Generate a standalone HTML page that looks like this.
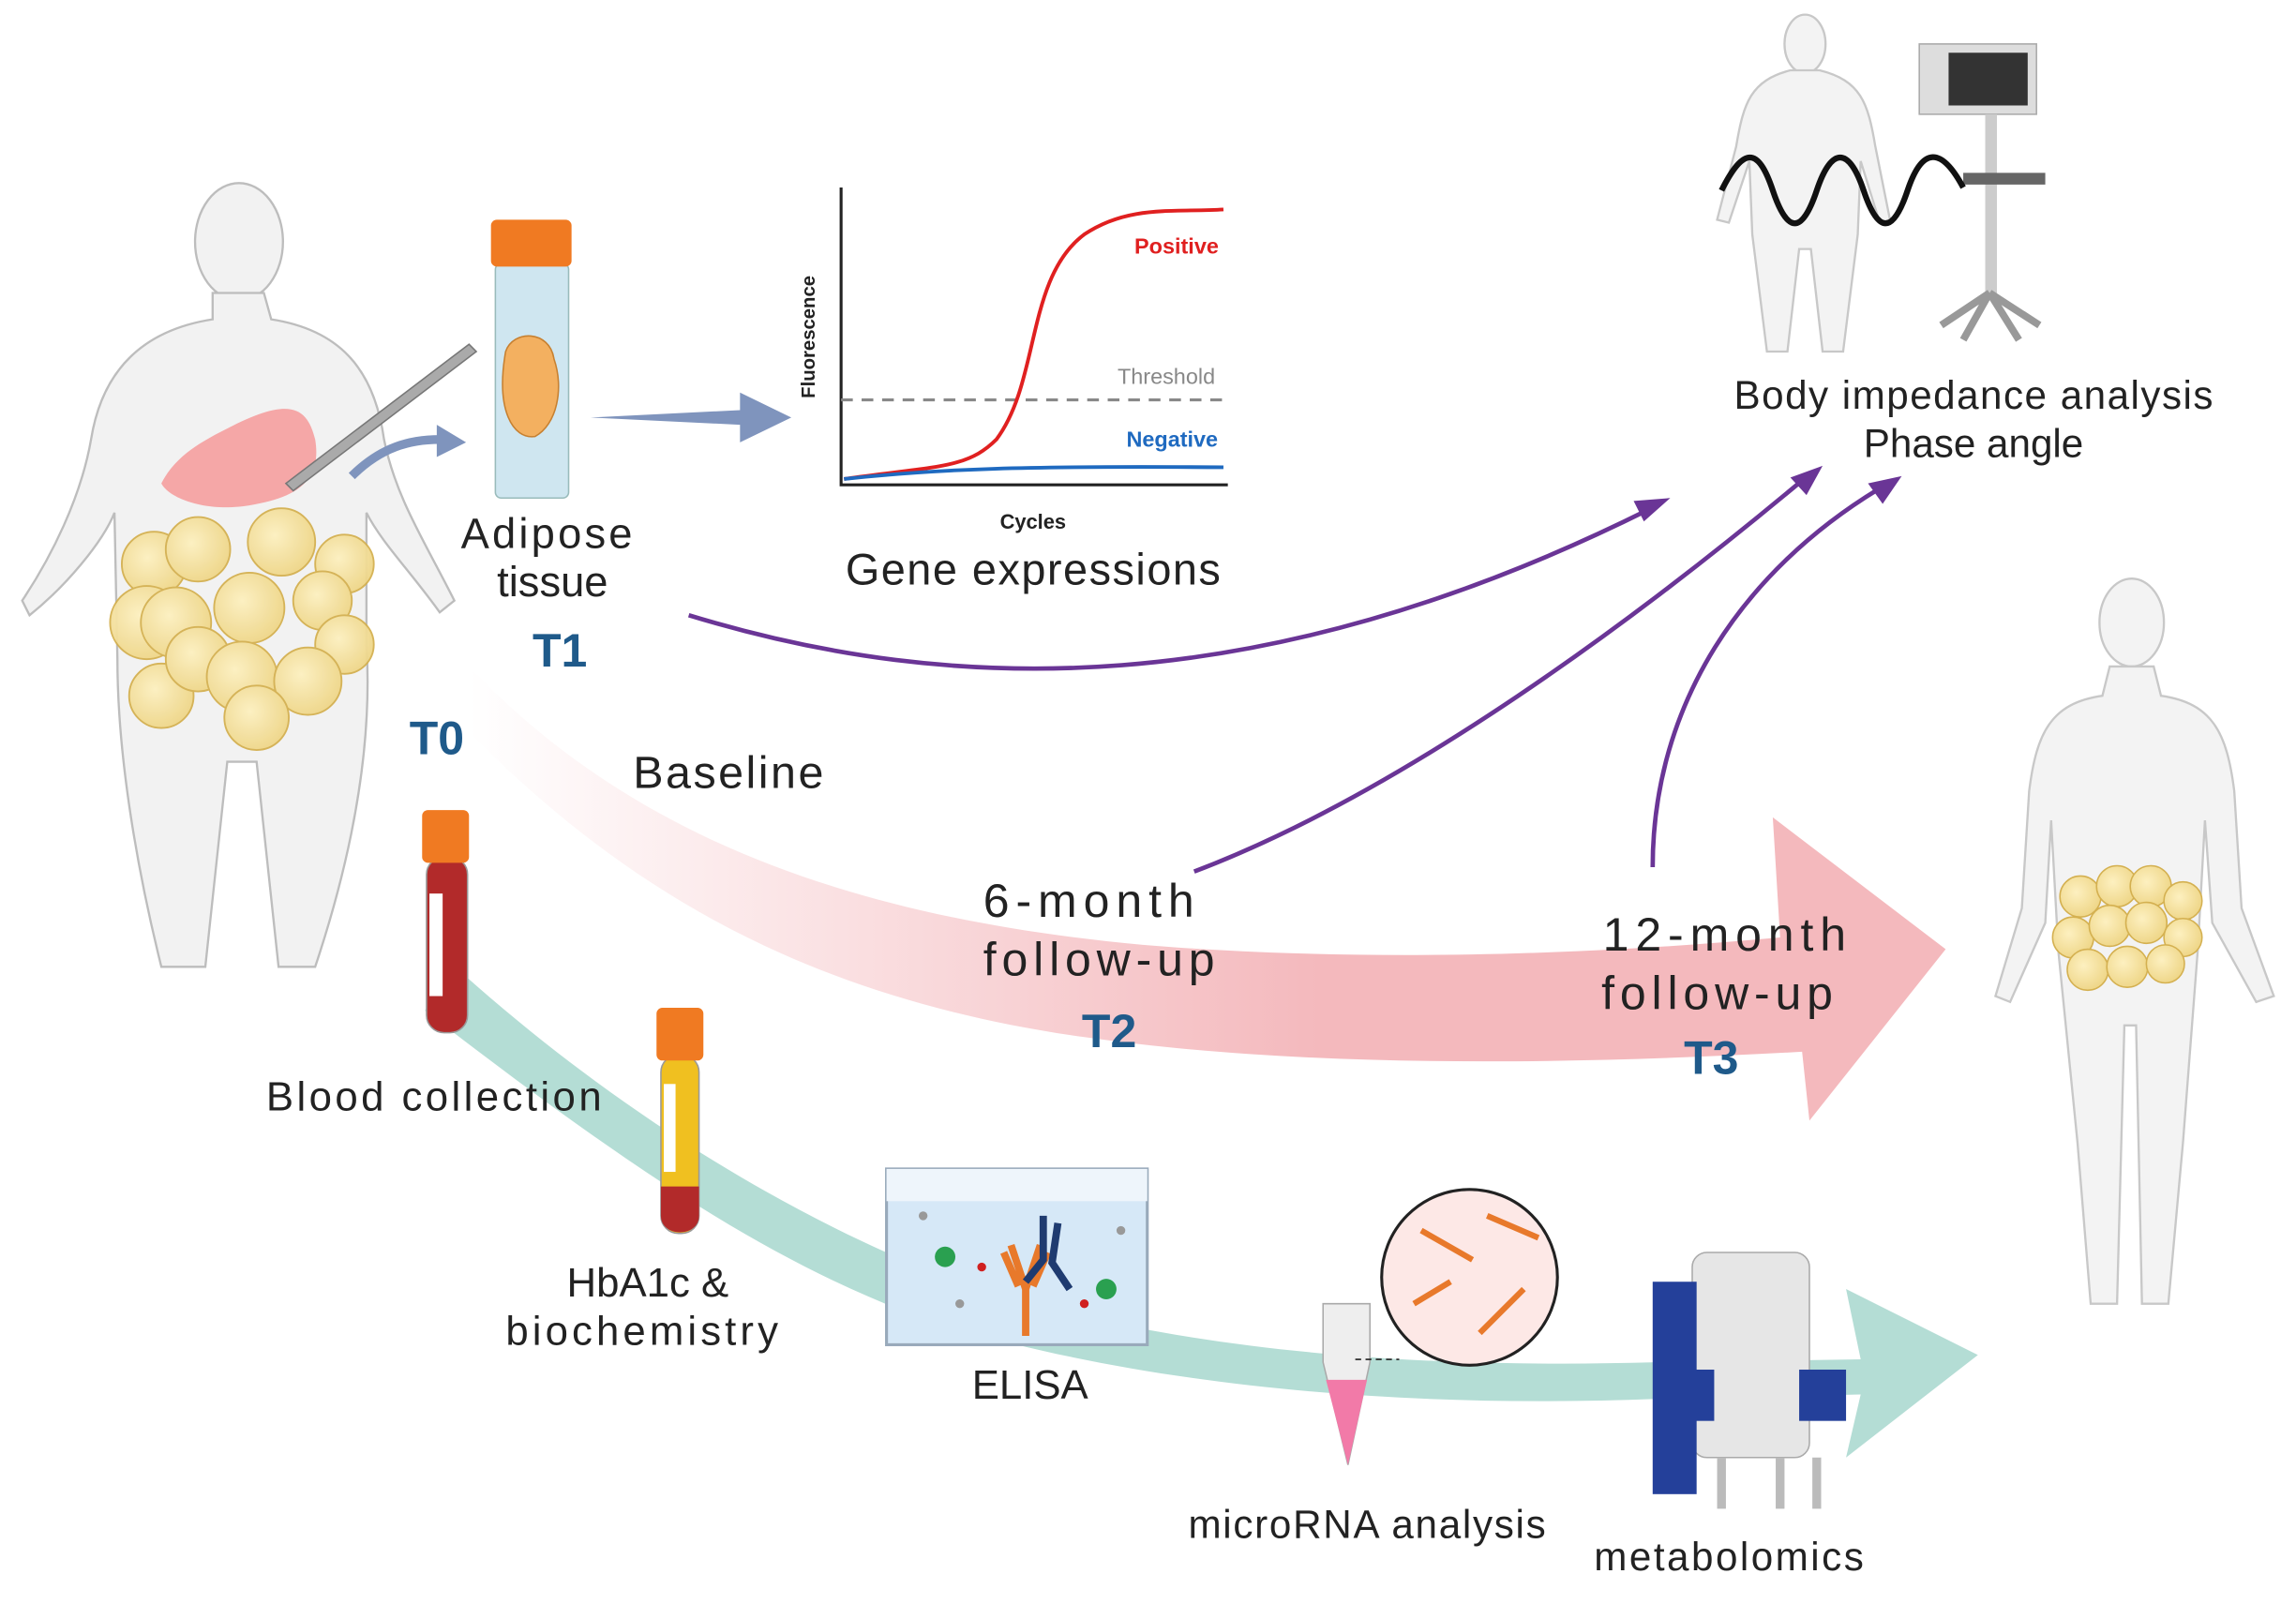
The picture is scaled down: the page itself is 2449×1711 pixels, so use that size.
<!DOCTYPE html>
<html><head><meta charset="utf-8"><style>
html,body{margin:0;padding:0;background:#fff}
svg{display:block}
text{font-family:"Liberation Sans",sans-serif}
</style></head><body>
<svg width="2449" height="1711" viewBox="0 0 1567 1095" xmlns="http://www.w3.org/2000/svg">
<defs>
<linearGradient id="pk" x1="320" y1="0" x2="900" y2="0" gradientUnits="userSpaceOnUse">
<stop offset="0" stop-color="#f4b8bc" stop-opacity="0"/><stop offset="1" stop-color="#f4b9bd"/></linearGradient>
<radialGradient id="fat" cx="0.4" cy="0.4" r="0.6"><stop offset="0" stop-color="#fdf0c0"/><stop offset="1" stop-color="#efd78a"/></radialGradient>
</defs>
<rect width="1567" height="1095" fill="#fff"/>

<path d="M305,655 C420,760 540,830 640,870 C780,920 950,935 1130,930 L1270,928 L1260,880 L1350,925 L1260,995 L1270,952 L1130,955 C950,962 770,945 630,900 C520,860 420,790 290,690 Z" fill="#b4ddd5"/>

<path d="M320,455 C420,560 560,625 780,645 C900,655 1050,655 1215,640 L1210,558 L1328,648 L1235,765 L1230,718 C1050,728 880,728 740,708 C540,680 420,600 320,500 Z" fill="url(#pk)"/>

<g fill="none" stroke="#6a3596" stroke-width="3">
<path d="M470,420 C650,475 860,480 1125,348"/>
<path d="M815,595 C960,540 1120,420 1230,328"/>
<path d="M1128,592 C1128,480 1190,390 1282,334"/>
</g>
<g fill="#6a3596">
<path d="M1140,340 L1115,342 L1122,356 Z"/>
<path d="M1244,318 L1222,326 L1233,338 Z"/>
<path d="M1298,325 L1275,330 L1285,344 Z"/>
</g>

<g fill="#f2f2f2" stroke="#bdbdbd" stroke-width="1.5">
<ellipse cx="163" cy="165" rx="30" ry="40"/>
<path d="M145,200 L180,200 L185,218 C230,225 255,250 262,300 C270,340 290,370 310,410 L300,418 C280,390 260,370 250,350 L250,440 C255,520 235,600 215,660 L190,660 L175,520 L155,520 L140,660 L110,660 C95,600 80,520 80,450 L78,350 C70,370 45,400 20,420 L15,410 C35,380 55,340 62,300 C70,250 100,225 145,218 Z"/>
</g>
<path d="M160,290 C200,270 210,280 215,300 C220,330 200,340 170,345 C140,350 115,340 110,330 C120,310 140,300 160,290Z" fill="#f5a7a7"/>
<path d="M320,235 L195,330 L200,335 L325,240 Z" fill="#aaa" stroke="#777"/>
<g fill="url(#fat)" stroke="#d4b050" stroke-width="1.2" opacity="0.95">
<circle cx="105" cy="385" r="22"/><circle cx="235" cy="385" r="20"/><circle cx="135" cy="375" r="22"/><circle cx="192" cy="370" r="23"/>
<circle cx="100" cy="425" r="25"/><circle cx="120" cy="425" r="24"/><circle cx="170" cy="415" r="24"/><circle cx="220" cy="410" r="20"/>
<circle cx="235" cy="440" r="20"/><circle cx="110" cy="475" r="22"/><circle cx="135" cy="450" r="22"/><circle cx="165" cy="462" r="24"/>
<circle cx="210" cy="465" r="23"/><circle cx="175" cy="490" r="22"/>
</g>
<path d="M240,325 C260,305 280,300 300,300" fill="none" stroke="#7f94bd" stroke-width="6"/>
<path d="M298,290 L318,302 L298,312 Z" fill="#7f94bd"/>

<rect x="338" y="180" width="50" height="160" rx="4" fill="#cfe6f0" stroke="#9bb" />
<rect x="335" y="150" width="55" height="32" rx="4" fill="#f07a22"/>
<path d="M345,240 C350,225 375,225 378,245 C385,265 380,290 365,298 C350,300 338,280 345,240Z" fill="#f3b060" stroke="#c78030"/>
<path d="M403,285 L505,280 L505,268 L540,285 L505,302 L505,290 Z" fill="#7f94bd"/>
<text x="373" y="374" font-size="29" text-anchor="middle" fill="#222" textLength="117">Adipose</text>
<text x="377" y="407" font-size="29" text-anchor="middle" fill="#222">tissue</text>
<text x="382" y="455" font-size="32" font-weight="bold" text-anchor="middle" fill="#1f5a8a">T1</text>
<text x="298" y="515" font-size="32" font-weight="bold" text-anchor="middle" fill="#1f5a8a">T0</text>

<path d="M574,128 L574,331 L838,331" fill="none" stroke="#222" stroke-width="2"/>
<line x1="574" y1="273" x2="838" y2="273" stroke="#888" stroke-width="2" stroke-dasharray="8,6"/>
<path d="M576,327 C640,318 660,320 680,300 C710,260 700,190 740,160 C770,140 800,145 835,143" fill="none" stroke="#e02020" stroke-width="2.5"/>
<path d="M576,327 C640,320 700,318 835,319" fill="none" stroke="#1f6ac0" stroke-width="2.5"/>
<text x="803" y="173" font-size="15" font-weight="bold" fill="#e02020" text-anchor="middle">Positive</text>
<text x="796" y="262" font-size="15" fill="#888" text-anchor="middle">Threshold</text>
<text x="800" y="305" font-size="15" font-weight="bold" fill="#1f6ac0" text-anchor="middle">Negative</text>
<text x="705" y="361" font-size="14" font-weight="bold" fill="#222" text-anchor="middle">Cycles</text>
<text x="556" y="230" font-size="13" font-weight="bold" fill="#222" text-anchor="middle" transform="rotate(-90 556 230)">Fluorescence</text>
<text x="705" y="399" font-size="30" fill="#222" text-anchor="middle" textLength="256">Gene expressions</text>

<text x="497" y="538" font-size="31" fill="#222" text-anchor="middle" textLength="130">Baseline</text>
<text x="743" y="626" font-size="32" fill="#222" text-anchor="middle" textLength="144">6-month</text>
<text x="750" y="666" font-size="32" fill="#222" text-anchor="middle" textLength="158">follow-up</text>
<text x="757" y="715" font-size="32" font-weight="bold" fill="#1f5a8a" text-anchor="middle">T2</text>
<text x="1177" y="649" font-size="32" fill="#222" text-anchor="middle" textLength="166">12-month</text>
<text x="1172" y="689" font-size="32" fill="#222" text-anchor="middle" textLength="158">follow-up</text>
<text x="1168" y="733" font-size="32" font-weight="bold" fill="#1f5a8a" text-anchor="middle">T3</text>

<g fill="#f3f3f3" stroke="#c8c8c8" stroke-width="1.5">
<ellipse cx="1232" cy="30" rx="14" ry="20"/>
<path d="M1222,48 L1242,48 C1270,55 1275,70 1280,100 L1290,150 L1283,152 L1270,110 L1268,160 L1258,240 L1244,240 L1236,170 L1228,170 L1220,240 L1206,240 L1196,160 L1194,110 L1180,152 L1172,150 L1185,100 C1190,70 1195,55 1222,48Z"/>
</g>
<rect x="1310" y="30" width="80" height="48" fill="#ddd" stroke="#aaa"/>
<rect x="1330" y="36" width="54" height="36" fill="#333"/>
<rect x="1355" y="78" width="8" height="125" fill="#ccc"/>
<rect x="1340" y="118" width="56" height="8" fill="#666"/>
<path d="M1358,200 L1325,222 M1358,200 L1392,222 M1358,200 L1340,232 M1358,200 L1378,232" stroke="#999" stroke-width="5"/>
<path d="M1175,130 C1190,100 1200,100 1210,130 C1220,160 1230,160 1240,130 C1250,100 1262,100 1272,130 C1282,160 1292,160 1302,130 C1312,100 1325,100 1340,128" fill="none" stroke="#111" stroke-width="4"/>
<text x="1347" y="279" font-size="27" fill="#222" text-anchor="middle" textLength="327">Body impedance analysis</text>
<text x="1347" y="312" font-size="27" fill="#222" text-anchor="middle">Phase angle</text>

<g fill="#f3f3f3" stroke="#c8c8c8" stroke-width="1.5">
<ellipse cx="1455" cy="425" rx="22" ry="30"/>
<path d="M1440,455 L1470,455 L1475,475 C1510,480 1520,500 1525,540 L1530,620 L1552,680 L1540,684 L1510,630 L1505,560 L1500,650 L1490,780 L1480,890 L1462,890 L1458,700 L1450,700 L1445,890 L1427,890 L1418,780 L1405,650 L1400,560 L1396,630 L1372,684 L1362,680 L1380,620 L1385,540 C1390,500 1400,480 1435,475Z"/>
</g>
<g fill="url(#fat)" stroke="#d4b050" stroke-width="1">
<circle cx="1420" cy="612" r="14"/><circle cx="1445" cy="605" r="14"/><circle cx="1468" cy="605" r="14"/><circle cx="1490" cy="615" r="13"/>
<circle cx="1415" cy="640" r="14"/><circle cx="1440" cy="632" r="14"/><circle cx="1465" cy="630" r="14"/><circle cx="1490" cy="640" r="13"/>
<circle cx="1425" cy="662" r="14"/><circle cx="1452" cy="660" r="14"/><circle cx="1478" cy="658" r="13"/>
</g>

<rect x="291" y="585" width="28" height="120" rx="12" fill="#b22a2a" stroke="#999"/>
<rect x="293" y="610" width="9" height="70" fill="#fff"/>
<rect x="288" y="553" width="32" height="36" rx="4" fill="#f07a22"/>
<text x="296" y="758" font-size="28" fill="#222" text-anchor="middle" textLength="229">Blood collection</text>
<rect x="451" y="720" width="26" height="122" rx="12" fill="#f0c020" stroke="#999"/>
<path d="M451,810 L477,810 L477,830 C477,845 451,845 451,830Z" fill="#b22a2a"/>
<rect x="453" y="740" width="8" height="60" fill="#fff"/>
<rect x="448" y="688" width="32" height="36" rx="4" fill="#f07a22"/>
<text x="442" y="885" font-size="28" fill="#222" text-anchor="middle">HbA1c &amp;</text>
<text x="438" y="918" font-size="28" fill="#222" text-anchor="middle" textLength="186">biochemistry</text>

<rect x="605" y="798" width="178" height="120" fill="#d6e8f7" stroke="#9ab" stroke-width="2"/>
<rect x="605" y="798" width="178" height="22" fill="#eef5fb"/>
<path d="M690,850 L700,880 L700,912 M710,850 L700,880 M685,855 L695,878 M715,855 L705,878" stroke="#e8792b" stroke-width="5" fill="none"/>
<path d="M712,830 L712,860 L700,875 M722,835 L718,862 L730,880" stroke="#1f3b70" stroke-width="5" fill="none"/>
<circle cx="645" cy="858" r="7" fill="#2aa050"/><circle cx="755" cy="880" r="7" fill="#2aa050"/>
<circle cx="670" cy="865" r="3" fill="#d02020"/><circle cx="740" cy="890" r="3" fill="#d02020"/><circle cx="630" cy="830" r="3" fill="#999"/><circle cx="655" cy="890" r="3" fill="#999"/><circle cx="765" cy="840" r="3" fill="#999"/>
<text x="703" y="955" font-size="28" fill="#222" text-anchor="middle">ELISA</text>

<path d="M903,890 L935,890 L935,930 L920,1000 L903,930Z" fill="#eee" stroke="#aaa"/>
<path d="M905,942 L933,942 L920,1000Z" fill="#f27aa8"/>
<circle cx="1003" cy="872" r="60" fill="#fde8e6" stroke="#222" stroke-width="2"/>
<g stroke="#e8792b" stroke-width="4" fill="none">
<path d="M970,840 L1005,860 M1015,830 L1050,845 M965,890 L990,875 M1010,910 L1040,880"/>
</g>
<line x1="925" y1="928" x2="955" y2="928" stroke="#222" stroke-dasharray="4,3"/>
<text x="933" y="1050" font-size="27" fill="#222" text-anchor="middle" textLength="244">microRNA analysis</text>

<rect x="1155" y="855" width="80" height="140" rx="10" fill="#e6e6e6" stroke="#aaa"/>
<rect x="1128" y="875" width="30" height="145" fill="#24409a"/>
<rect x="1228" y="935" width="32" height="35" fill="#24409a"/>
<rect x="1145" y="935" width="25" height="35" fill="#24409a"/>
<path d="M1175,995 L1175,1030 M1215,995 L1215,1030 M1240,995 L1240,1030" stroke="#bbb" stroke-width="6"/>
<text x="1180" y="1072" font-size="27" fill="#222" text-anchor="middle" textLength="184">metabolomics</text>
</svg>
</body></html>
